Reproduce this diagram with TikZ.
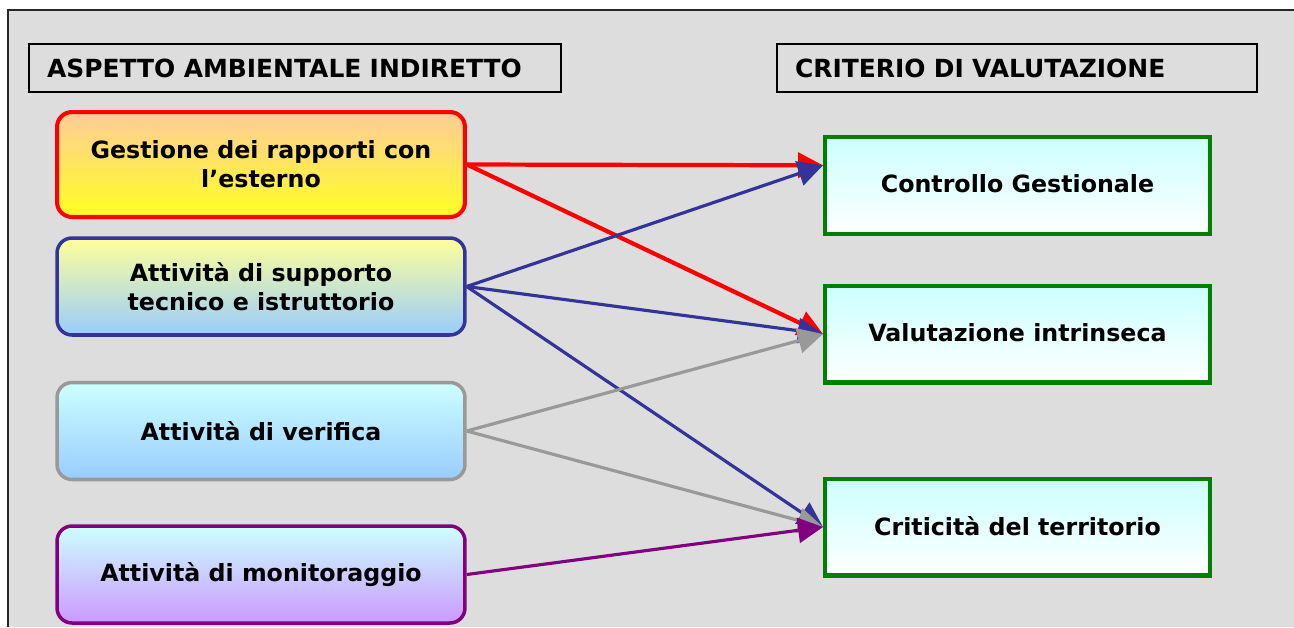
\documentclass[tikz,border=0pt]{standalone}
\usepackage{fontspec}
\setmainfont{DejaVu Sans}
\usepackage{xcolor}
\usepackage{tikz}
\usetikzlibrary{calc,arrows.meta}
\definecolor{bgGray}{HTML}{DDDDDD}
\definecolor{linkRed}{HTML}{FF0000}
\definecolor{linkBlue}{HTML}{333399}
\definecolor{linkGray}{HTML}{999999}
\definecolor{linkPurple}{HTML}{800080}
\definecolor{critGreen}{HTML}{008000}
\definecolor{peach}{HTML}{FFCC99}
\definecolor{lemon}{HTML}{FFFF22}
\definecolor{paleYellow}{HTML}{FFFF99}
\definecolor{skyBlue}{HTML}{99CCFF}
\definecolor{paleCyan}{HTML}{CCFFFF}
\definecolor{lilac}{HTML}{CC99FF}
\tikzset{
  boxText/.style={font=\fontsize{13.5}{16.5}\selectfont\bfseries, text=black, align=center},
  headBox/.style={draw=black, line width=1.1pt, boxText, font=\fontsize{14.2}{17}\selectfont\bfseries, align=left, minimum height=0.96cm, inner xsep=0.36cm},
  aspBox/.style={boxText, rounded corners=0.3cm, line width=2pt, minimum width=8.16cm, minimum height=1.94cm},
  critBox/.style={boxText, draw=critGreen, line width=2.3pt, top color=paleCyan, bottom color=white, minimum width=7.7cm, minimum height=1.94cm},
  tipHead/.style={-{Triangle[length=0.5cm, width=0.5cm]}},
  redLink/.style={tipHead, draw=linkRed, fill=linkRed, line width=2.4pt},
  blueLink/.style={tipHead, draw=linkBlue, fill=linkBlue, line width=1.8pt},
  grayLink/.style={tipHead, draw=linkGray, fill=linkGray, line width=1.8pt},
  purpleLink/.style={tipHead, draw=linkPurple, fill=linkPurple, line width=1.8pt}
}
\begin{document}
\begin{tikzpicture}[x=0.02cm, y=-0.02cm]
  \useasboundingbox (0,0) rectangle (1294,627);
  \fill[bgGray] (8,10) rectangle (1294,627);
  \draw[black!85, line width=1.1pt] (1294,10) -- (8,10) -- (8,627);

  \node[headBox, text width=9.92cm] (aspHead) at (295,68) {ASPETTO AMBIENTALE INDIRETTO};
  \node[headBox, text width=8.88cm] (critHead) at (1017,68) {CRITERIO DI VALUTAZIONE};

  \node[aspBox, draw=linkRed, line width=2.3pt, top color=peach, bottom color=lemon, minimum height=2.1cm] (gest) at (261,164.5) {Gestione dei rapporti con\\l’esterno};
  \node[aspBox, draw=linkBlue, top color=paleYellow, bottom color=skyBlue] (supp) at (261,286.5) {Attività di supporto\\tecnico e istruttorio};
  \node[aspBox, draw=linkGray, top color=paleCyan, bottom color=skyBlue] (verif) at (261,431) {Attività di verifica};
  \node[aspBox, draw=linkPurple, top color=paleCyan, bottom color=lilac] (monit) at (261,574.5) {Attività di monitoraggio};

  \node[critBox] (contr) at (1017.5,185.5) {\raisebox{2.5pt}{Controllo Gestionale}};
  \node[critBox] (intr) at (1017.5,334) {\raisebox{1.5pt}{Valutazione intrinseca}};
  \node[critBox] (terr) at (1017.5,527) {\raisebox{1pt}{Criticità del territorio}};

  \coordinate (contrIn) at ($(contr.north west)!0.3!(contr.south west)$);

  \draw[redLink] (gest.east) -- (contrIn);
  \draw[redLink] (gest.east) -- (intr.west);

  \draw[blueLink] (supp.east) -- (contrIn);
  \draw[blueLink] (supp.east) -- (intr.west);
  \draw[blueLink] (supp.east) -- (terr.west);

  \draw[grayLink] (verif.east) -- (intr.west);
  \draw[grayLink] (verif.east) -- (terr.west);

  \draw[purpleLink] (monit.east) -- (terr.west);
\end{tikzpicture}
\end{document}
